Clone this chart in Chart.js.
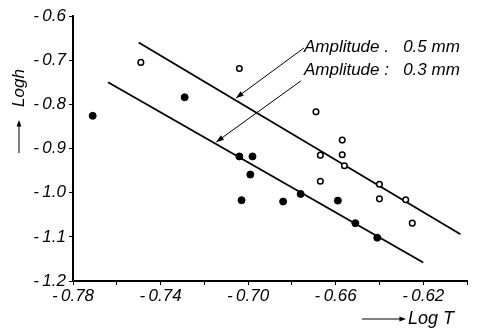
<!DOCTYPE html>
<html>
<head>
<meta charset="utf-8">
<script src="https://cdn.jsdelivr.net/npm/chart.js@4"></script>
<style>
  html, body { margin: 0; padding: 0; background: #fff; }
  #wrap { width: 477px; height: 329px; }
</style>
</head>
<body>
<div id="wrap"><canvas id="logChart"></canvas></div>
<script>
// amplitude 0.3 mm (filled dots)
var xFilled = [-0.771, -0.729, -0.704, -0.698, -0.699, -0.703, -0.684, -0.676, -0.659, -0.651, -0.641];
var yFilled = [-0.826, -0.784, -0.918, -0.918, -0.959, -1.017, -1.020, -1.003, -1.018, -1.069, -1.102];
// amplitude 0.5 mm (open circles)
var xOpen = [-0.749, -0.704, -0.669, -0.657, -0.667, -0.657, -0.656, -0.667, -0.640, -0.640, -0.628, -0.625];
var yOpen = [-0.705, -0.719, -0.817, -0.881, -0.915, -0.914, -0.939, -0.974, -0.981, -1.014, -1.016, -1.069];
// fitted lines
var fit05X = [-0.750, -0.603];
var fit05Y = [-0.660, -1.094];
var fit03X = [-0.764, -0.620];
var fit03Y = [-0.750, -1.158];
var xTicks = [-0.78, -0.74, -0.70, -0.66, -0.62];
var labels = ["Amplitude .   0.5 mm", "Amplitude :   0.3 mm"];

function pts(xs, ys) {
  return xs.map(function (x, i) { return { x: x, y: ys[i] }; });
}

function fmt(v, d) {
  return "-\u2009" + Math.abs(v).toFixed(d);
}

// label anchor + arrow tip, in data units
var notes = [
  { text: labels[0], tx: -0.6745, ty: -0.670, ax: -0.6745, ay: -0.6724, bx: -0.7055, by: -0.7855 },
  { text: labels[1], tx: -0.6745, ty: -0.722, ax: -0.6759, ay: -0.747, bx: -0.7145, by: -0.885 }
];

function arrowHead(ctx, x0, y0, x1, y1, size) {
  var a = Math.atan2(y1 - y0, x1 - x0);
  ctx.beginPath();
  ctx.moveTo(x1, y1);
  ctx.lineTo(x1 - size * Math.cos(a - 0.35), y1 - size * Math.sin(a - 0.35));
  ctx.lineTo(x1 - size * Math.cos(a + 0.35), y1 - size * Math.sin(a + 0.35));
  ctx.closePath();
  ctx.fill();
}

var extras = {
  id: "extras",
  afterDraw: function (chart) {
    var ctx = chart.ctx, xs = chart.scales.x, ys = chart.scales.y, ca = chart.chartArea;
    ctx.save();
    ctx.strokeStyle = "#000";
    ctx.fillStyle = "#000";
    ctx.lineWidth = 1;
    ctx.font = "italic 17px 'Liberation Sans'";
    ctx.textBaseline = "middle";
    notes.forEach(function (n) {
      ctx.fillText(n.text, xs.getPixelForValue(n.tx), ys.getPixelForValue(n.ty));
      var x0 = xs.getPixelForValue(n.ax), y0 = ys.getPixelForValue(n.ay);
      var x1 = xs.getPixelForValue(n.bx), y1 = ys.getPixelForValue(n.by);
      ctx.beginPath();
      ctx.moveTo(x0, y0);
      ctx.lineTo(x1, y1);
      ctx.stroke();
      arrowHead(ctx, x0, y0, x1, y1, 8);
    });

    // y title with arrow
    var yx = ca.left - 54;
    ctx.save();
    ctx.translate(yx, ca.top + 72);
    ctx.rotate(-Math.PI / 2);
    ctx.textAlign = "center";
    ctx.font = "italic 17px 'Liberation Sans'";
    ctx.fillText("Logh", 0, 0);
    ctx.restore();
    ctx.beginPath();
    ctx.moveTo(yx, ca.top + 137);
    ctx.lineTo(yx, ca.top + 106);
    ctx.stroke();
    arrowHead(ctx, yx, ca.top + 137, yx, ca.top + 104, 7);

    // x title with arrow
    var xy = ca.bottom + 38;
    ctx.beginPath();
    ctx.moveTo(ca.right - 105, xy);
    ctx.lineTo(ca.right - 64, xy);
    ctx.stroke();
    arrowHead(ctx, ca.right - 105, xy, ca.right - 61, xy, 7);
    ctx.font = "italic 18px 'Liberation Sans'";
    ctx.textAlign = "left";
    ctx.fillText("Log T", ca.right - 59, xy);
    ctx.restore();
  }
};

new Chart("logChart", {
  type: "scatter",
  data: {
    datasets: [
      {
        data: pts(xFilled, yFilled),
        backgroundColor: "#000",
        borderColor: "#000",
        pointRadius: 3.5,
      },
      {
        data: pts(xOpen, yOpen),
        backgroundColor: "#fff",
        borderColor: "#000",
        borderWidth: 1.5,
        pointRadius: 2.8,
      },
      {
        type: "line",
        data: pts(fit05X, fit05Y),
        borderColor: "#000",
        borderWidth: 1.8,
        pointRadius: 0,
      },
      {
        type: "line",
        data: pts(fit03X, fit03Y),
        borderColor: "#000",
        borderWidth: 1.8,
        pointRadius: 0,
      },
    ],
  },
  options: {
    responsive: true,
    maintainAspectRatio: false,
    animation: false,
    layout: { padding: { top: 16, right: 10, left: 0, bottom: 0 } },
    plugins: {
      legend: { display: false },
      tooltip: { enabled: false },
    },
    scales: {
      x: {
        type: "linear",
        min: -0.78,
        max: -0.60,
        afterFit: function (s) { s.height = 48; },
        grid: { drawOnChartArea: false, tickLength: 4, color: "#000" },
        border: { color: "#000", width: 2 },
        ticks: {
          stepSize: 0.02,
          autoSkip: false,
          maxRotation: 0,
          padding: 1,
          color: "#000",
          font: { family: "'Liberation Sans'", size: 17, style: "italic" },
          callback: function (v) {
            return xTicks.some(function (t) { return Math.abs(t - v) < 1e-6; }) ? fmt(v, 2) : "";
          },
        },
      },
      y: {
        min: -1.2,
        max: -0.6,
        afterFit: function (s) { s.width = 73; },
        grid: { drawOnChartArea: false, tickLength: 4, color: "#000" },
        border: { color: "#000", width: 2 },
        ticks: {
          stepSize: 0.1,
          padding: 3,
          color: "#000",
          font: { family: "'Liberation Sans'", size: 17, style: "italic" },
          callback: function (v) { return fmt(v, 1); },
        },
      },
    },
  },
  plugins: [extras],
});
</script>
</body>
</html>
